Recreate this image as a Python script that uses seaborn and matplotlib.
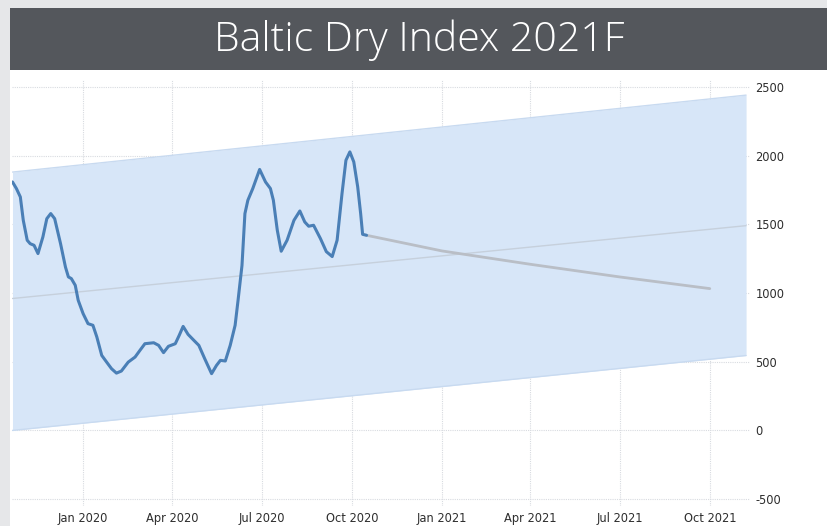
import matplotlib
matplotlib.use("Agg")
import matplotlib.pyplot as plt
from matplotlib.patches import Rectangle
import pandas as pd
import seaborn as sns

# ---- data ----
hist_dates = ["2019-10-21", "2019-10-25", "2019-10-29", "2019-11-01", "2019-11-05",
              "2019-11-08", "2019-11-12", "2019-11-16", "2019-11-21", "2019-11-25",
              "2019-11-29", "2019-12-03", "2019-12-09", "2019-12-14", "2019-12-17",
              "2019-12-20", "2019-12-24", "2019-12-27", "2020-01-01", "2020-01-06",
              "2020-01-11", "2020-01-15", "2020-01-20", "2020-01-25", "2020-01-30",
              "2020-02-04", "2020-02-09", "2020-02-16", "2020-02-23", "2020-02-28",
              "2020-03-04", "2020-03-13", "2020-03-18", "2020-03-23", "2020-03-28",
              "2020-04-04", "2020-04-08", "2020-04-12", "2020-04-17", "2020-04-23",
              "2020-04-28", "2020-05-04", "2020-05-11", "2020-05-16", "2020-05-20",
              "2020-05-25", "2020-05-30", "2020-06-04", "2020-06-07", "2020-06-11",
              "2020-06-14", "2020-06-17", "2020-06-22", "2020-06-29", "2020-07-05",
              "2020-07-10", "2020-07-13", "2020-07-17", "2020-07-21", "2020-07-27",
              "2020-08-03", "2020-08-09", "2020-08-14", "2020-08-18", "2020-08-23",
              "2020-08-30", "2020-09-05", "2020-09-11", "2020-09-16", "2020-09-21",
              "2020-09-25", "2020-09-29", "2020-10-03", "2020-10-07", "2020-10-10",
              "2020-10-12", "2020-10-16"]
hist_values = [1808, 1760, 1699, 1529, 1384,
               1359, 1347, 1287, 1408, 1541,
               1578, 1541, 1359, 1189, 1117,
               1105, 1056, 947, 850, 777,
               765, 680, 546, 497, 449,
               417, 432, 497, 534, 583,
               631, 638, 619, 566, 612,
               631, 692, 757, 699, 655,
               619, 522, 413, 473, 510,
               505, 619, 765, 947, 1200,
               1578, 1675, 1760, 1899, 1808,
               1760, 1675, 1457, 1304, 1384,
               1529, 1597, 1517, 1486, 1493,
               1396, 1301, 1265, 1384, 1724,
               1966, 2027, 1954, 1772, 1578,
               1427, 1420]

forecast_dates = ["2020-10-16", "2021-01-01", "2021-04-01", "2021-07-01", "2021-10-01"]
forecast_values = [1420, 1306, 1209, 1117, 1032]

band_dates = ["2019-10-21", "2021-11-07"]
band_upper = [1880, 2440]
band_lower = [0, 545]
band_mid = [960, 1490]

x_ticks = ["2020-01-01", "2020-04-01", "2020-07-01", "2020-10-01",
           "2021-01-01", "2021-04-01", "2021-07-01", "2021-10-01"]
x_tick_labels = ["Jan 2020", "Apr 2020", "Jul 2020", "Oct 2020",
                 "Jan 2021", "Apr 2021", "Jul 2021", "Oct 2021"]
y_ticks = [-500, 0, 500, 1000, 1500, 2000, 2500]
title = "Baltic Dry Index 2021F"

# ---- build frames ----
hist = pd.DataFrame({"date": pd.to_datetime(hist_dates), "value": hist_values})
fc = pd.DataFrame({"date": pd.to_datetime(forecast_dates), "value": forecast_values})
band = pd.DataFrame({"date": pd.to_datetime(band_dates), "upper": band_upper,
                     "lower": band_lower, "mid": band_mid})

sns.set_theme(style="white")
W, H = 828, 526
fig = plt.figure(figsize=(W / 100, H / 100), dpi=100)
fig.patch.set_facecolor("#e6e7e9")

# white chart panel and dark title bar
fig.add_artist(Rectangle((10 / W, 0), 1 - 10 / W, 1 - 70 / H, transform=fig.transFigure,
                         facecolor="white", edgecolor="none", zorder=0))
fig.add_artist(Rectangle((10 / W, 1 - 70 / H), 1 - 10 / W, 62 / H, transform=fig.transFigure,
                         facecolor="#54575c", edgecolor="none", zorder=0))
fig.text((10 + 818 / 2) / W, 1 - 40 / H, title, color="white", fontsize=29.5,
         family=["Open Sans", "DejaVu Sans"], weight="light", ha="center", va="center")

ax = fig.add_axes([12 / W, 1 - 506 / H, (750 - 12) / W, (506 - 80) / H])
ax.set_facecolor("none")

ax.fill_between(band["date"], band["lower"], band["upper"], color="#d7e6f8",
                linewidth=0, zorder=1)
ax.plot(band["date"], band["upper"], color="#c8daf0", lw=1, zorder=2)
ax.plot(band["date"], band["lower"], color="#c8daf0", lw=1, zorder=2)
sns.lineplot(data=band, x="date", y="mid", ax=ax, color="#c6d0dc", lw=1, zorder=2)

sns.lineplot(data=fc, x="date", y="value", ax=ax, color="#b9bec6", lw=2, zorder=3)
sns.lineplot(data=hist, x="date", y="value", ax=ax, color="#4a7fb6", lw=2.2,
             zorder=4, solid_joinstyle="round", solid_capstyle="round")

ax.set_xlim(pd.Timestamp("2019-10-20 12:00"), pd.Timestamp("2021-11-11"))
ax.set_ylim(-550, 2550)

ax.set_xticks(pd.to_datetime(x_ticks))
ax.set_xticklabels(x_tick_labels)
ax.set_yticks(y_ticks)
ax.set_yticklabels([str(v) for v in y_ticks])
ax.yaxis.tick_right()

for lbl in ax.get_xticklabels() + ax.get_yticklabels():
    lbl.set_family(["DejaVu Sans"])
    lbl.set_stretch("condensed")
    lbl.set_fontsize(9.2)
    lbl.set_color("#2e2e2e")

ax.tick_params(axis="both", length=0, pad=4)
ax.grid(True, color="#d8dbe0", lw=0.8, ls=(0, (1, 1)))
ax.set_axisbelow(True)
for s in ax.spines.values():
    s.set_visible(False)
ax.set_xlabel("")
ax.set_ylabel("")

fig.savefig("out.png", dpi=100, facecolor=fig.get_facecolor())
